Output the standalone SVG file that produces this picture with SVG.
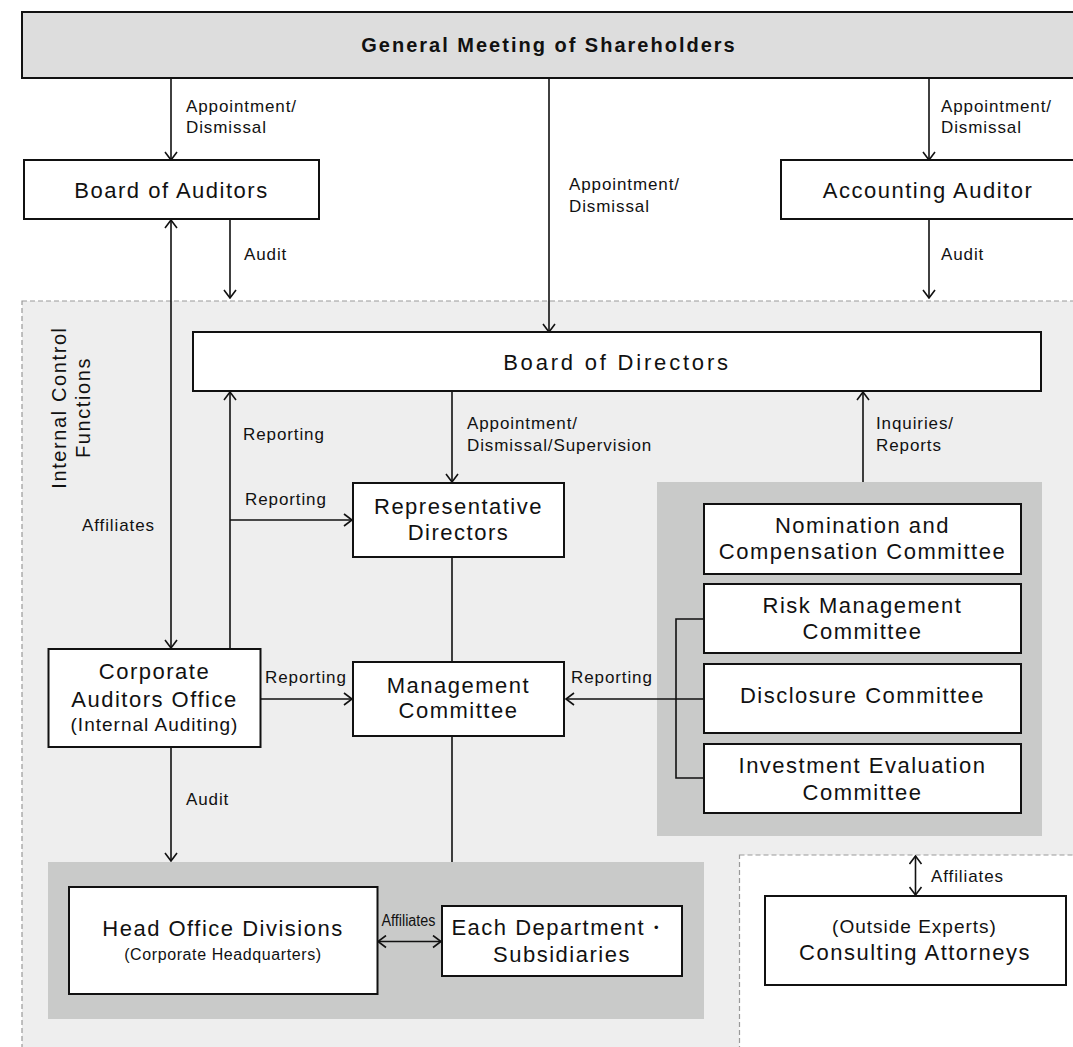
<svg xmlns="http://www.w3.org/2000/svg" width="1073" height="1047" viewBox="0 0 1073 1047">
  <defs>
    <marker id="arrow" viewBox="0 0 10 14" refX="9" refY="7" markerWidth="10" markerHeight="14" markerUnits="userSpaceOnUse" orient="auto-start-reverse">
      <path d="M1,1 L9,7 L1,13" fill="none" stroke="#111" stroke-width="1.6"/>
    </marker>
    <style>
      .node { fill: #ffffff; stroke: #111; stroke-width: 2; }
      .txt { font-family: "Liberation Sans", Arial, sans-serif; fill: #111; text-anchor: middle; }
      .big { font-size: 22px; letter-spacing: 1.5px; }
      .mid { font-size: 19px; letter-spacing: 1px; }
      .small { font-size: 16px; letter-spacing: 0.6px; }
      .lbl { font-family: "Liberation Sans", Arial, sans-serif; fill: #111; font-size: 17px; letter-spacing: 0.9px; }
      .edge { fill: none; stroke: #111; stroke-width: 1.6; }
      .arr { marker-end: url(#arrow); }
      .arr2 { marker-start: url(#arrow); marker-end: url(#arrow); }
      .zone { stroke: #999; stroke-width: 1.2; stroke-dasharray: 5 3; }
      .group { fill: #c9cac9; }
    </style>
  </defs>

  <rect width="1073" height="1047" fill="#ffffff"/>

  <!-- internal control zone -->
  <g id="internal-control-zone">
    <rect class="zone" x="22" y="301" width="1070" height="760" fill="#eeeeee"/>
    <text class="lbl" style="font-size:20px;letter-spacing:1.6px" text-anchor="middle" transform="translate(66,407.5) rotate(-90)">Internal Control</text>
    <text class="lbl" style="font-size:20px;letter-spacing:1.6px" text-anchor="middle" transform="translate(90,407.5) rotate(-90)">Functions</text>
  </g>

  <!-- outside experts zone -->
  <g id="outside-zone">
    <rect class="zone" x="739.5" y="855" width="360" height="210" fill="#ffffff"/>
  </g>

  <!-- grey grouping panels -->
  <rect id="committee-panel" class="group" x="657" y="482" width="385" height="354"/>
  <rect id="operations-panel" class="group" x="48" y="862" width="656" height="157"/>

  <!-- connectors -->
  <g id="connectors">
    <line class="edge arr" x1="171" y1="78" x2="171" y2="160"/>
    <line class="edge arr" x1="549" y1="78" x2="549" y2="332"/>
    <line class="edge arr" x1="929" y1="78" x2="929" y2="160"/>
    <line class="edge arr" x1="230" y1="219" x2="230" y2="298"/>
    <line class="edge arr" x1="929" y1="219" x2="929" y2="298"/>
    <line class="edge arr2" x1="171" y1="220" x2="171" y2="648"/>
    <line class="edge arr" x1="230" y1="648" x2="230" y2="392"/>
    <line class="edge arr" x1="230" y1="520" x2="352" y2="520"/>
    <line class="edge arr" x1="452" y1="391" x2="452" y2="482"/>
    <line class="edge" x1="452" y1="557" x2="452" y2="662"/>
    <line class="edge" x1="452" y1="736" x2="452" y2="862"/>
    <line class="edge arr" x1="261" y1="699" x2="352" y2="699"/>
    <line class="edge arr" x1="704" y1="699" x2="566" y2="699"/>
    <polyline class="edge" points="704,619 676,619 676,778 704,778"/>
    <line class="edge arr" x1="863" y1="482" x2="863" y2="392"/>
    <line class="edge arr" x1="171" y1="747" x2="171" y2="861"/>
    <line class="edge arr2" x1="378" y1="941.5" x2="441" y2="941.5"/>
    <line class="edge arr2" x1="915.5" y1="856" x2="915.5" y2="895"/>
  </g>

  <!-- connector labels -->
  <g id="labels">
    <text class="lbl" x="186" y="112">Appointment/</text>
    <text class="lbl" x="186" y="133">Dismissal</text>
    <text class="lbl" x="569" y="190">Appointment/</text>
    <text class="lbl" x="569" y="212">Dismissal</text>
    <text class="lbl" x="941" y="112">Appointment/</text>
    <text class="lbl" x="941" y="133">Dismissal</text>
    <text class="lbl" x="244" y="260">Audit</text>
    <text class="lbl" x="941" y="260">Audit</text>
    <text class="lbl" x="82" y="531">Affiliates</text>
    <text class="lbl" x="243" y="440">Reporting</text>
    <text class="lbl" x="245" y="505">Reporting</text>
    <text class="lbl" x="467" y="429">Appointment/</text>
    <text class="lbl" x="467" y="451">Dismissal/Supervision</text>
    <text class="lbl" x="876" y="429">Inquiries/</text>
    <text class="lbl" x="876" y="451">Reports</text>
    <text class="lbl" x="265" y="683">Reporting</text>
    <text class="lbl" x="571" y="683">Reporting</text>
    <text class="lbl" x="186" y="805">Audit</text>
    <text class="lbl" x="381.5" y="926" style="font-size:16px;letter-spacing:0" textLength="54" lengthAdjust="spacingAndGlyphs">Affiliates</text>
    <text class="lbl" x="931" y="882">Affiliates</text>
  </g>

  <!-- nodes -->
  <g id="general-meeting">
    <rect x="22" y="12" width="1070" height="66" fill="#dddddd" stroke="#111" stroke-width="2"/>
    <text class="txt" x="549" y="52" style="font-size:20px;font-weight:bold;letter-spacing:2px">General Meeting of Shareholders</text>
  </g>

  <g id="board-of-auditors">
    <rect class="node" x="24" y="160" width="295" height="59"/>
    <text class="txt big" x="171.5" y="198">Board of Auditors</text>
  </g>

  <g id="accounting-auditor">
    <rect class="node" x="781" y="160" width="300" height="59"/>
    <text class="txt big" x="928" y="198">Accounting Auditor</text>
  </g>

  <g id="board-of-directors">
    <rect class="node" x="193" y="332" width="848" height="59"/>
    <text class="txt big" x="617" y="370" style="letter-spacing:2.8px">Board of Directors</text>
  </g>

  <g id="representative-directors">
    <rect class="node" x="353" y="483" width="211" height="74"/>
    <text class="txt big" x="458.5" y="514">Representative</text>
    <text class="txt big" x="458.5" y="540">Directors</text>
  </g>

  <g id="corporate-auditors-office">
    <rect class="node" x="48.5" y="649" width="212" height="98"/>
    <text class="txt big" x="154.5" y="679">Corporate</text>
    <text class="txt big" x="154.5" y="706.5">Auditors Office</text>
    <text class="txt mid" x="154.5" y="731">(Internal Auditing)</text>
  </g>

  <g id="management-committee">
    <rect class="node" x="353" y="662" width="211" height="74"/>
    <text class="txt big" x="458.5" y="692.5">Management</text>
    <text class="txt big" x="458.5" y="718">Committee</text>
  </g>

  <g id="nomination-compensation-committee">
    <rect class="node" x="704" y="504" width="317" height="70"/>
    <text class="txt big" x="862.5" y="533">Nomination and</text>
    <text class="txt big" x="862.5" y="559">Compensation Committee</text>
  </g>

  <g id="risk-management-committee">
    <rect class="node" x="704" y="584" width="317" height="69"/>
    <text class="txt big" x="862.5" y="612.5">Risk Management</text>
    <text class="txt big" x="862.5" y="639">Committee</text>
  </g>

  <g id="disclosure-committee">
    <rect class="node" x="704" y="664" width="317" height="69"/>
    <text class="txt big" x="862.5" y="702.5">Disclosure Committee</text>
  </g>

  <g id="investment-evaluation-committee">
    <rect class="node" x="704" y="744" width="317" height="69"/>
    <text class="txt big" x="862.5" y="773">Investment Evaluation</text>
    <text class="txt big" x="862.5" y="800">Committee</text>
  </g>

  <g id="head-office-divisions">
    <rect class="node" x="69" y="887" width="308.5" height="107"/>
    <text class="txt big" x="223" y="936">Head Office Divisions</text>
    <text class="txt small" x="223" y="960">(Corporate Headquarters)</text>
  </g>

  <g id="departments-subsidiaries">
    <rect class="node" x="442" y="906" width="240" height="70"/>
    <text class="txt big" x="560" y="935">Each Department・</text>
    <text class="txt big" x="562" y="961.5">Subsidiaries</text>
  </g>

  <g id="consulting-attorneys">
    <rect class="node" x="765" y="896" width="301" height="89"/>
    <text class="txt mid" x="914.5" y="933">(Outside Experts)</text>
    <text class="txt big" x="915" y="960">Consulting Attorneys</text>
  </g>
</svg>
